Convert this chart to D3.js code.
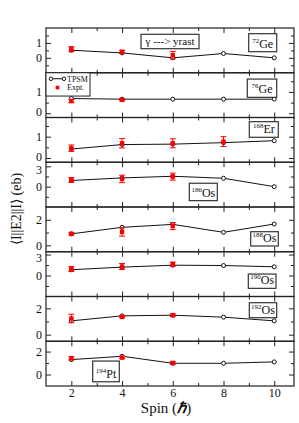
<!DOCTYPE html>
<html>
<head>
<meta charset="utf-8">
<script src="https://cdn.jsdelivr.net/npm/d3@7"></script>
<style>
  body { margin: 0; background: #fff; }
  svg { font-family: 'Liberation Serif', 'Times New Roman', serif; }
  .frame { fill: none; stroke: #222; stroke-width: 1.2; }
  .axis path { display: none; }
  .axis line { stroke: #222; stroke-width: 1; }
  .axis text { font-family: 'Liberation Serif', serif; font-size: 12px; fill: #111; }
  .tpsm-line { fill: none; stroke: #111; stroke-width: 1; }
  .tpsm-dot { fill: #fff; stroke: #111; stroke-width: 1; }
  .expt { fill: #f00; }
  .err { stroke: #f00; stroke-width: 1; }
  .tag { fill: #fff; stroke: #333; stroke-width: 1.2; }
</style>
</head>
<body>
<div id="chart"></div>
<script>
const spins = [2, 4, 6, 8, 10]
const exptSpins = [2, 4, 6, 8]

// nucleus labels
const massNumbers = ['72', '76', '168', '186', '188', '190', '192', '194']
const elements = ['Ge', 'Ge', 'Er', 'Os', 'Os', 'Os', 'Os', 'Pt']

// TPSM values, one array per nucleus
const tpsmGe72 = [0.51, 0.33, 0.0, 0.29, 0.0]
const tpsmGe76 = [0.69, 0.66, 0.66, 0.66, 0.66]
const tpsmEr168 = [0.42, 0.63, 0.65, 0.72, 0.81]
const tpsmOs186 = [0.91, 1.29, 1.53, 1.24, 0.0]
const tpsmOs188 = [0.9, 1.41, 1.64, 1.02, 1.67]
const tpsmOs190 = [0.83, 1.2, 1.48, 1.43, 1.25]
const tpsmOs192 = [1.05, 1.43, 1.48, 1.33, 1.05]
const tpsmPt194 = [1.3, 1.59, 0.98, 0.98, 1.1]

// experiment values and errors (null = no data)
const exptGe72 = [0.58, 0.4, 0.18, null]
const errGe72 = [0.17, 0.11, 0.25, null]
const exptGe76 = [0.57, 0.63, null, null]
const errGe76 = [0.07, 0.05, null, null]
const exptEr168 = [0.46, 0.69, 0.69, 0.77]
const errEr168 = [0.15, 0.22, 0.21, 0.23]
const exptOs186 = [1.0, 1.14, 1.48, null]
const errOs186 = [0.36, 0.55, 0.52, null]
const exptOs188 = [0.9, 1.05, 1.51, null]
const errOs188 = [0.1, 0.33, 0.28, null]
const exptOs190 = [0.93, 1.29, 1.62, null]
const errOs190 = [0.35, 0.42, 0.3, null]
const exptOs192 = [1.23, 1.35, 1.48, null]
const errOs192 = [0.32, 0.06, 0.1, null]
const exptPt194 = [1.42, 1.48, 1.01, null]
const errPt194 = [0.15, 0.1, 0.12, null]

const tpsmAll = [tpsmGe72, tpsmGe76, tpsmEr168, tpsmOs186, tpsmOs188, tpsmOs190, tpsmOs192, tpsmPt194]
const exptAll = [exptGe72, exptGe76, exptEr168, exptOs186, exptOs188, exptOs190, exptOs192, exptPt194]
const errAll = [errGe72, errGe76, errEr168, errOs186, errOs188, errOs190, errOs192, errPt194]

// y axis per panel
const yDomains = [[-1, 2], [-0.2, 1.9], [-0.2, 1.9], [-3, 3.6], [-0.5, 3], [-3, 3.4], [-0.5, 2.9], [-1, 2.9]]
const yMajor = [[0, 1], [0, 1], [0, 1], [0, 3], [0, 2], [0, 3], [0, 2], [0, 2]]
const yMinor = [[-0.5, 0.5, 1.5], [0.5, 1.5], [0.5, 1.5], [-1.5, 1.5], [1], [-1.5, 1.5], [1], [1]]

const xMajor = [2, 4, 6, 8, 10]
const xMinor = [3, 5, 7, 9]

// label box placement inside each panel: [x, y, w, h]
const tagBoxes = [
  [202.7, 5.7, 28, 18], [201.3, 6.3, 29.4, 18.3], [203.3, 4.2, 29, 15.6], [143.3, 21, 28, 17.4],
  [204.7, 24.7, 27.6, 14.3], [202.3, 22.3, 27.7, 14.3], [203.3, 6.2, 27.4, 15], [46.7, 19.8, 26.6, 20.7]
]

const width = 299
const height = 423
const margin = { top: 28, right: 5, bottom: 37, left: 46 }
const innerW = width - margin.left - margin.right
const innerH = height - margin.top - margin.bottom
const panelH = innerH / tpsmAll.length

const svg = d3.select('#chart').append('svg').attr('width', width).attr('height', height)
const g = svg.append('g').attr('transform', `translate(${margin.left},${margin.top})`)

const x = d3.scaleLinear().domain([1, 10.78]).range([0, innerW])
const fmt = d3.format('d')

tpsmAll.forEach((tpsm, i) => {
  const p = g.append('g').attr('transform', `translate(0,${i * panelH})`)
  const y = d3.scaleLinear().domain(yDomains[i]).range([panelH, 0])

  // ticks inward on all four sides
  const left = p.append('g').attr('class', 'axis')
    .call(d3.axisLeft(y).tickValues(yMajor[i]).tickSizeInner(-5).tickSizeOuter(0).tickPadding(4).tickFormat(fmt))
  // labels close to a panel edge are pulled in a little
  left.selectAll('text').filter((d) => y(d) < 6).attr('dy', '0.6em')
  left.selectAll('text').filter((d) => y(d) > panelH - 6).attr('dy', '0.2em')
  p.append('g').attr('class', 'axis')
    .call(d3.axisLeft(y).tickValues(yMinor[i]).tickSizeInner(-3).tickSizeOuter(0).tickFormat(''))
  p.append('g').attr('class', 'axis').attr('transform', `translate(${innerW},0)`)
    .call(d3.axisRight(y).tickValues(yMajor[i]).tickSizeInner(-5).tickSizeOuter(0).tickFormat(''))
  p.append('g').attr('class', 'axis').attr('transform', `translate(${innerW},0)`)
    .call(d3.axisRight(y).tickValues(yMinor[i]).tickSizeInner(-3).tickSizeOuter(0).tickFormat(''))

  const last = i === tpsmAll.length - 1
  p.append('g').attr('class', 'axis')
    .call(d3.axisTop(x).tickValues(xMajor).tickSizeInner(-5).tickSizeOuter(0).tickFormat(''))
  p.append('g').attr('class', 'axis')
    .call(d3.axisTop(x).tickValues(xMinor).tickSizeInner(-3).tickSizeOuter(0).tickFormat(''))
  p.append('g').attr('class', 'axis').attr('transform', `translate(0,${panelH})`)
    .call(d3.axisBottom(x).tickValues(xMajor).tickSizeInner(-5).tickSizeOuter(0)
      .tickPadding(2).tickFormat(last ? fmt : ''))
  p.append('g').attr('class', 'axis').attr('transform', `translate(0,${panelH})`)
    .call(d3.axisBottom(x).tickValues(xMinor).tickSizeInner(-3).tickSizeOuter(0).tickFormat(''))

  p.append('rect').attr('class', 'frame').attr('width', innerW).attr('height', panelH)

  // TPSM line
  const rows = spins.map((s, k) => ({ s, v: tpsm[k] }))
  p.append('path').attr('class', 'tpsm-line')
    .attr('d', d3.line().x((d) => x(d.s)).y((d) => y(d.v))(rows))
  p.selectAll('circle').data(rows).join('circle').attr('class', 'tpsm-dot')
    .attr('cx', (d) => x(d.s)).attr('cy', (d) => y(d.v)).attr('r', 2)

  // experiment
  const ex = exptSpins.map((s, k) => ({ s, v: exptAll[i][k], e: errAll[i][k] })).filter((d) => d.v != null)
  const eg = p.append('g')
  ex.forEach((d) => {
    const cx = x(d.s)
    eg.append('line').attr('class', 'err').attr('x1', cx).attr('x2', cx).attr('y1', y(d.v - d.e)).attr('y2', y(d.v + d.e))
    eg.append('line').attr('class', 'err').attr('x1', cx - 3).attr('x2', cx + 3).attr('y1', y(d.v - d.e)).attr('y2', y(d.v - d.e))
    eg.append('line').attr('class', 'err').attr('x1', cx - 3).attr('x2', cx + 3).attr('y1', y(d.v + d.e)).attr('y2', y(d.v + d.e))
    eg.append('rect').attr('class', 'expt').attr('x', cx - 2.2).attr('y', y(d.v) - 2.2).attr('width', 4.4).attr('height', 4.4)
  })

  // nucleus tag
  const [bx, by, bw, bh] = tagBoxes[i]
  p.append('rect').attr('class', 'tag').attr('x', bx).attr('y', by).attr('width', bw).attr('height', bh)
  const t = p.append('text').attr('x', bx + bw / 2).attr('y', by + bh - 4).attr('text-anchor', 'middle')
    .style('font-size', '12px').attr('fill', '#111')
  t.append('tspan').text(massNumbers[i]).style('font-size', '7px').attr('dy', '-5')
  t.append('tspan').text(elements[i]).attr('dy', '5')

  if (i === 0) {
    p.append('rect').attr('class', 'tag').attr('x', 95).attr('y', 6.3).attr('width', 58).attr('height', 14.4)
    p.append('text').attr('x', 124).attr('y', 17.2).attr('text-anchor', 'middle')
      .style('font-size', '11px').attr('fill', '#111').text('γ ---> yrast')
  }

  if (i === 1) {
    const lg = p.append('g')
    lg.append('rect').attr('x', 0).attr('y', 0).attr('width', 44).attr('height', 23.3)
      .attr('fill', '#fff').attr('stroke', '#222').attr('stroke-width', 1)
    lg.append('line').attr('x1', 5).attr('x2', 18).attr('y1', 6).attr('y2', 6).attr('stroke', '#111')
    lg.append('circle').attr('cx', 5).attr('cy', 6).attr('r', 1.8).attr('class', 'tpsm-dot')
    lg.append('circle').attr('cx', 18).attr('cy', 6).attr('r', 1.8).attr('class', 'tpsm-dot')
    lg.append('text').attr('x', 21).attr('y', 8.8).style('font-size', '8px').attr('fill', '#111').text('TPSM')
    lg.append('rect').attr('x', 9.7).attr('y', 13).attr('width', 3.6).attr('height', 3.6).attr('class', 'expt')
    lg.append('text').attr('x', 21).attr('y', 17.5).style('font-size', '8px').attr('fill', '#111').text('Expt.')
  }
})

// axis titles
const xt = svg.append('text').attr('x', margin.left + innerW / 2 - 4).attr('y', 413)
  .attr('text-anchor', 'middle').style('font-size', '15px').attr('fill', '#111')
xt.append('tspan').text('Spin (')
xt.append('tspan').text('ℏ').style('font-weight', 'bold').style('font-style', 'italic')
xt.append('tspan').text(')')

svg.append('text').attr('transform', `translate(21,${margin.top + innerH / 2 + 2}) rotate(-90)`)
  .attr('text-anchor', 'middle').style('font-size', '14px').attr('fill', '#111')
  .text('⟨I||E2||I⟩ (eb)')
</script>
</body>
</html>
